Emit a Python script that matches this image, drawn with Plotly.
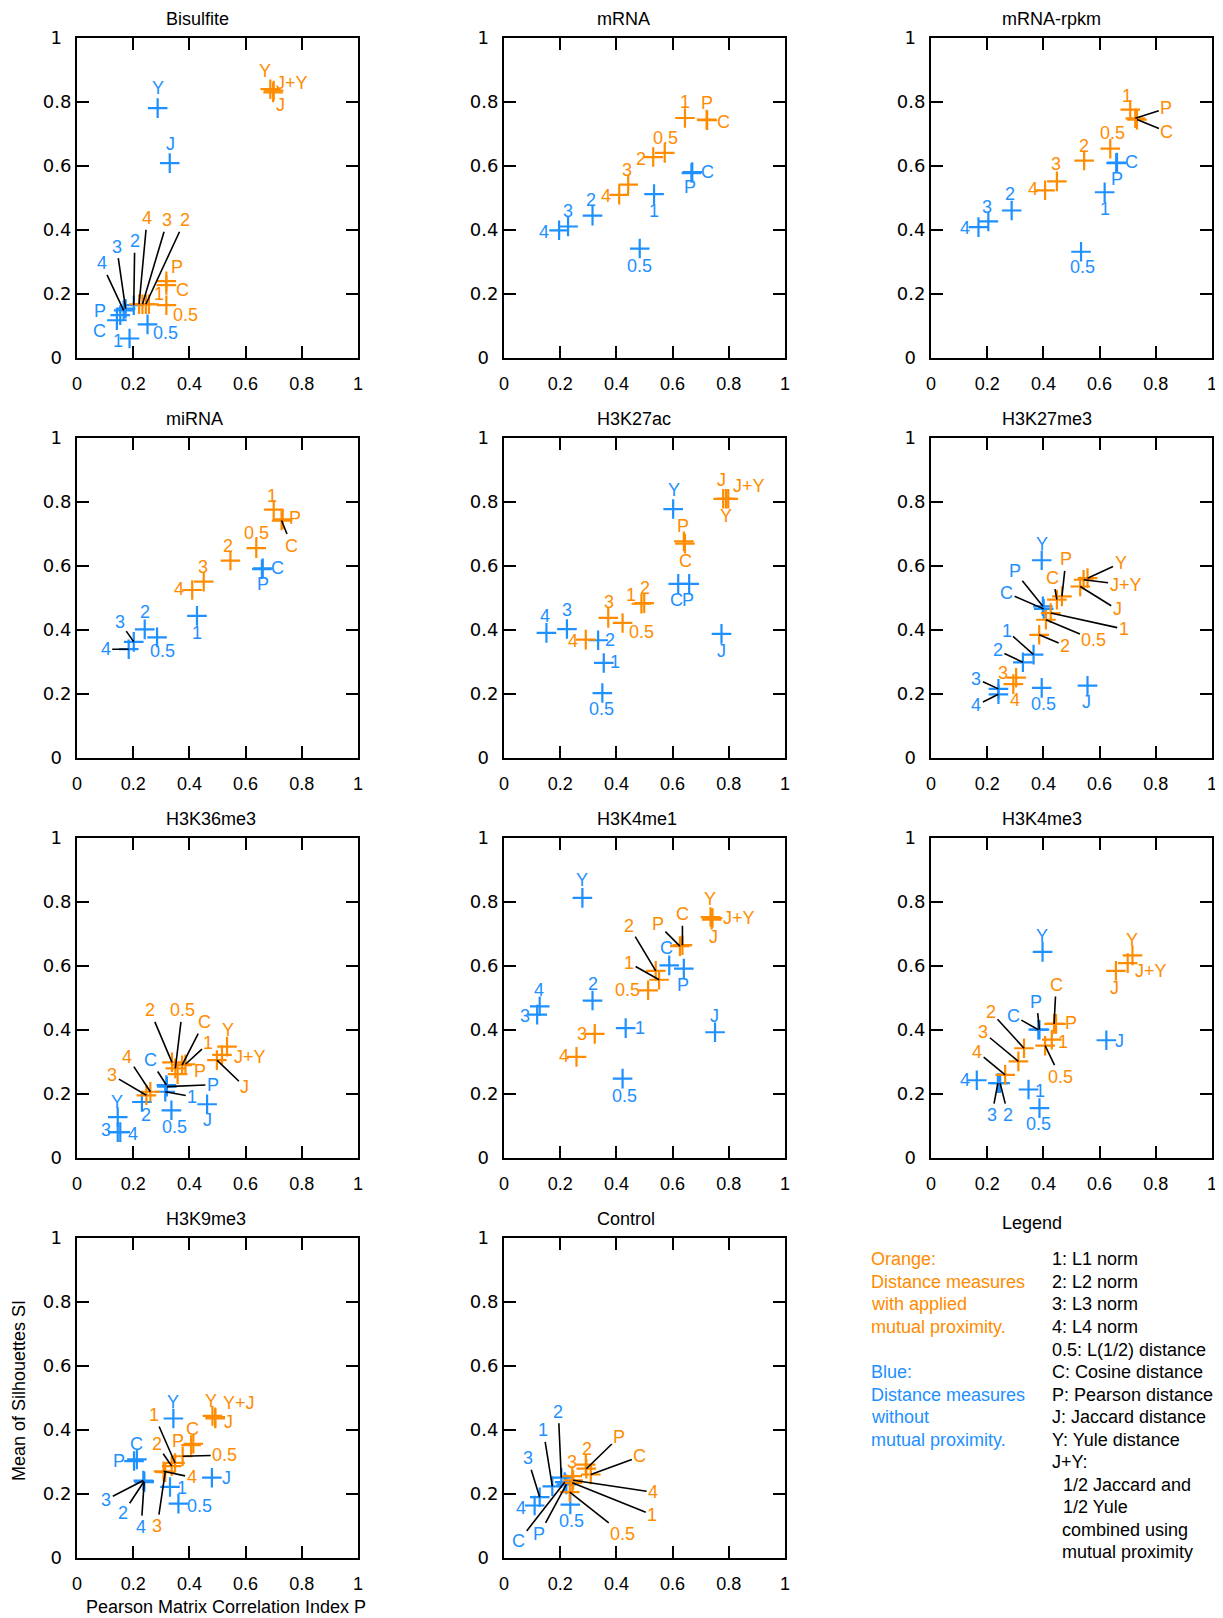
import plotly.graph_objects as go

W, H = 1223, 1618
PAGE_OFF = 8  # browser body margin around the figure
ORANGE = "#FF8C00"
BLUE = "#1E90FF"
FONT = "Liberation Sans, Arial, sans-serif"
YTICK_FONT = "DejaVu Sans, Liberation Sans, sans-serif"

PANEL_TITLES = ["Bisulfite", "mRNA", "mRNA-rpkm", "miRNA", "H3K27ac", "H3K27me3",
                "H3K36me3", "H3K4me1", "H3K4me3", "H3K9me3", "Control"]
TICK_VALS = [0, 0.2, 0.4, 0.6, 0.8, 1]
TICK_TEXT = ["0", "0.2", "0.4", "0.6", "0.8", "1"]
X_TITLE = "Pearson Matrix Correlation Index P"
Y_TITLE = "Mean of Silhouettes SI"

# ---- Bisulfite ----
BIS_O_LBL = ["4", "3", "2", "1", "P", "C", "0.5", "Y", "J+Y", "J"]
BIS_O_X = [0.221, 0.233, 0.245, 0.256, 0.318, 0.318, 0.318, 0.688, 0.700, 0.698]
BIS_O_Y = [0.168, 0.168, 0.168, 0.168, 0.240, 0.228, 0.165, 0.840, 0.836, 0.830]
BIS_B_LBL = ["Y", "J", "P", "C", "4", "3", "2", "1", "0.5"]
BIS_B_X = [0.287, 0.330, 0.154, 0.142, 0.166, 0.173, 0.202, 0.187, 0.251]
BIS_B_Y = [0.781, 0.609, 0.134, 0.118, 0.149, 0.154, 0.165, 0.061, 0.105]
# ---- mRNA ----
MRNA_O_LBL = ["1", "P", "C", "0.5", "2", "3", "4"]
MRNA_O_X = [0.644, 0.721, 0.723, 0.572, 0.531, 0.442, 0.410]
MRNA_O_Y = [0.750, 0.745, 0.743, 0.641, 0.628, 0.542, 0.510]
MRNA_B_LBL = ["C", "P", "1", "0.5", "2", "3", "4"]
MRNA_B_X = [0.670, 0.667, 0.534, 0.483, 0.315, 0.228, 0.196]
MRNA_B_Y = [0.581, 0.578, 0.512, 0.342, 0.445, 0.411, 0.399]
# ---- mRNA-rpkm ----
RPKM_O_LBL = ["1", "P", "C", "0.5", "2", "3", "4"]
RPKM_O_X = [0.709, 0.727, 0.733, 0.638, 0.545, 0.448, 0.406]
RPKM_O_Y = [0.776, 0.749, 0.745, 0.654, 0.617, 0.552, 0.524]
RPKM_B_LBL = ["C", "P", "1", "0.5", "2", "3", "4"]
RPKM_B_X = [0.662, 0.659, 0.618, 0.534, 0.287, 0.204, 0.169]
RPKM_B_Y = [0.611, 0.609, 0.518, 0.332, 0.461, 0.427, 0.409]
# ---- miRNA ----
MIR_O_LBL = ["1", "P", "C", "0.5", "2", "3", "4"]
MIR_O_X = [0.700, 0.732, 0.728, 0.638, 0.546, 0.451, 0.410]
MIR_O_Y = [0.776, 0.746, 0.742, 0.656, 0.617, 0.551, 0.525]
MIR_B_LBL = ["C", "P", "1", "2", "0.5", "3", "4"]
MIR_B_X = [0.661, 0.658, 0.427, 0.241, 0.285, 0.202, 0.184]
MIR_B_Y = [0.593, 0.590, 0.444, 0.402, 0.377, 0.363, 0.340]
# ---- H3K27ac ----
K27AC_O_LBL = ["J", "J+Y", "Y", "P", "C", "1", "2", "3", "0.5", "4"]
K27AC_O_X = [0.780, 0.790, 0.798, 0.640, 0.644, 0.489, 0.499, 0.371, 0.422, 0.291]
K27AC_O_Y = [0.810, 0.810, 0.810, 0.677, 0.670, 0.482, 0.484, 0.438, 0.422, 0.370]
K27AC_B_LBL = ["Y", "C", "P", "4", "3", "2", "1", "0.5", "J"]
K27AC_B_X = [0.602, 0.620, 0.659, 0.151, 0.224, 0.335, 0.355, 0.350, 0.774]
K27AC_B_Y = [0.778, 0.544, 0.544, 0.391, 0.403, 0.368, 0.297, 0.203, 0.388]
# ---- H3K27me3 ----
K27ME3_O_LBL = ["P", "C", "Y", "J+Y", "J", "1", "0.5", "2", "3", "4"]
K27ME3_O_X = [0.466, 0.448, 0.557, 0.543, 0.531, 0.426, 0.409, 0.385, 0.303, 0.293]
K27ME3_O_Y = [0.505, 0.495, 0.562, 0.557, 0.536, 0.453, 0.432, 0.385, 0.251, 0.231]
K27ME3_B_LBL = ["Y", "P", "C", "1", "2", "3", "4", "0.5", "J"]
K27ME3_B_X = [0.394, 0.398, 0.401, 0.365, 0.327, 0.240, 0.240, 0.394, 0.557]
K27ME3_B_Y = [0.618, 0.474, 0.466, 0.323, 0.299, 0.216, 0.199, 0.219, 0.226]
# ---- H3K36me3 ----
K36_O_LBL = ["2", "0.5", "C", "1", "P", "Y", "J+Y", "J", "4", "3"]
K36_O_X = [0.338, 0.350, 0.374, 0.386, 0.358, 0.534, 0.516, 0.498, 0.261, 0.247]
K36_O_Y = [0.299, 0.280, 0.290, 0.293, 0.262, 0.348, 0.322, 0.306, 0.207, 0.196]
K36_B_LBL = ["C", "P", "1", "2", "0.5", "J", "Y", "3", "4"]
K36_B_X = [0.318, 0.320, 0.314, 0.231, 0.336, 0.463, 0.145, 0.145, 0.154]
K36_B_Y = [0.228, 0.223, 0.207, 0.175, 0.149, 0.168, 0.128, 0.081, 0.081]
# ---- H3K4me1 ----
K4ME1_O_LBL = ["Y", "J+Y", "J", "C", "P", "2", "1", "0.5", "3", "4"]
K4ME1_O_X = [0.735, 0.742, 0.739, 0.635, 0.626, 0.540, 0.552, 0.513, 0.323, 0.258]
K4ME1_O_Y = [0.753, 0.750, 0.745, 0.665, 0.662, 0.585, 0.557, 0.524, 0.388, 0.316]
K4ME1_B_LBL = ["Y", "4", "3", "2", "1", "0.5", "C", "P", "J"]
K4ME1_B_X = [0.279, 0.127, 0.118, 0.315, 0.433, 0.422, 0.588, 0.640, 0.751]
K4ME1_B_Y = [0.813, 0.474, 0.448, 0.492, 0.406, 0.248, 0.602, 0.592, 0.393]
# ---- H3K4me3 ----
K4ME3_O_LBL = ["Y", "J+Y", "J", "C", "P", "1", "0.5", "2", "3", "4"]
K4ME3_O_X = [0.717, 0.700, 0.658, 0.438, 0.445, 0.430, 0.406, 0.331, 0.311, 0.264]
K4ME3_O_Y = [0.633, 0.609, 0.585, 0.419, 0.419, 0.370, 0.351, 0.343, 0.302, 0.260]
K4ME3_B_LBL = ["Y", "P", "C", "4", "3", "2", "1", "0.5", "J"]
K4ME3_B_X = [0.397, 0.386, 0.382, 0.163, 0.238, 0.246, 0.347, 0.386, 0.624]
K4ME3_B_Y = [0.644, 0.401, 0.401, 0.243, 0.234, 0.234, 0.214, 0.156, 0.368]
# ---- H3K9me3 ----
K9_O_LBL = ["Y", "Y+J", "J", "C", "P", "0.5", "1", "2", "4", "3"]
K9_O_X = [0.482, 0.492, 0.492, 0.414, 0.406, 0.376, 0.349, 0.337, 0.308, 0.314]
K9_O_Y = [0.444, 0.440, 0.436, 0.357, 0.353, 0.318, 0.297, 0.287, 0.271, 0.268]
K9_B_LBL = ["Y", "C", "P", "3", "2", "4", "1", "0.5", "J"]
K9_B_X = [0.343, 0.213, 0.203, 0.236, 0.239, 0.239, 0.331, 0.361, 0.480]
K9_B_Y = [0.436, 0.308, 0.303, 0.242, 0.240, 0.237, 0.222, 0.170, 0.251]
# ---- Control ----
CTRL_O_LBL = ["2", "P", "3", "C", "4", "1", "0.5"]
CTRL_O_X = [0.291, 0.293, 0.243, 0.309, 0.246, 0.243, 0.234]
CTRL_O_Y = [0.292, 0.279, 0.256, 0.261, 0.243, 0.235, 0.206]
CTRL_B_LBL = ["2", "1", "3", "4", "C", "P", "0.5"]
CTRL_B_X = [0.204, 0.172, 0.127, 0.109, 0.216, 0.222, 0.236]
CTRL_B_Y = [0.251, 0.224, 0.190, 0.164, 0.237, 0.230, 0.167]

LEGEND_TITLE = "Legend"
LEGEND_ORANGE = ["Orange:", "Distance measures", "with applied", "mutual proximity."]
LEGEND_BLUE = ["Blue:", "Distance measures", "without", "mutual proximity."]
LEGEND_KEYS = ["1: L1 norm", "2: L2 norm", "3: L3 norm", "4: L4 norm", "0.5: L(1/2) distance",
               "C: Cosine distance", "P: Pearson distance", "J: Jaccard distance",
               "Y: Yule distance", "J+Y:", "1/2 Jaccard and", "1/2 Yule",
               "combined using", "mutual proximity"]

PANELS = [
    (BIS_O_LBL, BIS_O_X, BIS_O_Y, BIS_B_LBL, BIS_B_X, BIS_B_Y),
    (MRNA_O_LBL, MRNA_O_X, MRNA_O_Y, MRNA_B_LBL, MRNA_B_X, MRNA_B_Y),
    (RPKM_O_LBL, RPKM_O_X, RPKM_O_Y, RPKM_B_LBL, RPKM_B_X, RPKM_B_Y),
    (MIR_O_LBL, MIR_O_X, MIR_O_Y, MIR_B_LBL, MIR_B_X, MIR_B_Y),
    (K27AC_O_LBL, K27AC_O_X, K27AC_O_Y, K27AC_B_LBL, K27AC_B_X, K27AC_B_Y),
    (K27ME3_O_LBL, K27ME3_O_X, K27ME3_O_Y, K27ME3_B_LBL, K27ME3_B_X, K27ME3_B_Y),
    (K36_O_LBL, K36_O_X, K36_O_Y, K36_B_LBL, K36_B_X, K36_B_Y),
    (K4ME1_O_LBL, K4ME1_O_X, K4ME1_O_Y, K4ME1_B_LBL, K4ME1_B_X, K4ME1_B_Y),
    (K4ME3_O_LBL, K4ME3_O_X, K4ME3_O_Y, K4ME3_B_LBL, K4ME3_B_X, K4ME3_B_Y),
    (K9_O_LBL, K9_O_X, K9_O_Y, K9_B_LBL, K9_B_X, K9_B_Y),
    (CTRL_O_LBL, CTRL_O_X, CTRL_O_Y, CTRL_B_LBL, CTRL_B_X, CTRL_B_Y),
]

# ---- label placement (pixel offsets: dx right, dy up, leader line flag) ----
L = 1
LABEL_POS = [
    {"o4": (8, 86, L), "o3": (25, 84, L), "o2": (39, 84, L), "o1": (10, 10, 0), "oP": (11, 14, 0),
     "oC": (16, -5, 0), "o0.5": (19, -10, 0), "oY": (-5, 18, 0), "oJ+Y": (18, 7, 0), "oJ": (7, -13, 0),
     "bY": (0, 20, 0), "bJ": (1, 19, 0), "bP": (-20, 4, 0), "bC": (-17, -11, 0), "b4": (-22, 47, L),
     "b3": (-9, 62, L), "b2": (1, 64, L), "b1": (-12, -3, 0), "b0.5": (18, -9, 0)},
    {"o1": (0, 16, 0), "oP": (0, 17, 0), "oC": (16, -2, 0), "o0.5": (1, 15, 0), "o2": (-12, -2, 0),
     "o3": (-1, 15, 0), "o4": (-13, -1, 0),
     "bC": (15, 0, 0), "bP": (-1, -14, 0), "b1": (0, -17, 0), "b0.5": (0, -17, 0), "b2": (-2, 16, 0),
     "b3": (0, 15, 0), "b4": (-15, -2, 0)},
    {"o1": (-3, 14, 0), "oP": (31, 10, L), "oC": (30, -12, L), "o0.5": (2, 16, 0), "o2": (0, 15, 0),
     "o3": (-1, 17, 0), "o4": (-12, 1, 0),
     "bC": (14, 0, 0), "bP": (1, -16, 0), "b1": (0, -17, 0), "b0.5": (1, -15, 0), "b2": (-2, 16, 0),
     "b3": (-1, 14, 0), "b4": (-13, -1, 0)},
    {"o1": (-2, 14, 0), "oP": (12, 1, 0), "oC": (10, -25, L), "o0.5": (0, 15, 0), "o2": (-2, 15, 0),
     "o3": (-1, 15, 0), "o4": (-13, 1, 0),
     "bC": (15, 0, 0), "bP": (1, -15, 0), "b1": (0, -17, 0), "b2": (0, 17, 0), "b0.5": (5, -14, 0),
     "b3": (-14, 20, L), "b4": (-23, 0, L)},
    {"oJ": (-2, 19, 0), "oJ+Y": (23, 13, 0), "oY": (-2, -17, 0), "oP": (-1, 15, 0), "oC": (1, -17, 0),
     "o1": (-10, 9, 0), "o2": (1, 15, 0), "o3": (1, 16, 0), "o0.5": (19, -9, 0), "o4": (-13, -1, 0),
     "bY": (1, 19, 0), "bC": (-2, -16, 0), "bP": (-1, -16, 0), "b4": (-1, 17, 0), "b3": (0, 19, 0),
     "b2": (12, 0, 0), "b1": (11, 1, 0), "b0.5": (-1, -16, 0), "bJ": (0, -17, 0)},
    {"oP": (4, 37, L), "oC": (-4, 22, L), "oY": (33, 15, L), "oJ+Y": (42, -5, L), "oJ": (37, -23, L),
     "o1": (73, -16, L), "o0.5": (48, -20, L), "o2": (26, -11, L), "o3": (-13, 5, 0), "o4": (2, -16, 0),
     "bY": (0, 16, 0), "bP": (-28, 35, L), "bC": (-37, 16, L), "b1": (-27, 24, L), "b2": (-25, 12, L),
     "b3": (-22, 10, L), "b4": (-22, -11, L), "b0.5": (2, -16, 0), "bJ": (-1, -16, 0)},
    {"o2": (-22, 52, L), "o0.5": (7, 58, L), "oC": (22, 43, L), "o1": (23, 21, L), "oP": (22, 3, 0),
     "oY": (1, 17, 0), "oJ+Y": (28, -2, 0), "oJ": (28, -27, L), "o4": (-23, 35, L), "o3": (-34, 20, L),
     "bC": (-16, 25, L), "bP": (46, 2, L), "b1": (27, -5, L), "b2": (4, -13, 0), "b0.5": (3, -17, 0),
     "bJ": (0, -16, 0), "bY": (-1, 15, 0), "b3": (-12, 2, 0), "b4": (13, -2, 0)},
    {"oY": (-1, 18, 0), "oJ+Y": (26, 0, 0), "oJ": (2, -17, 0), "oC": (0, 31, L), "oP": (-22, 22, L),
     "o2": (-27, 45, L), "o1": (-30, 17, L), "o0.5": (-21, 0, 0), "o3": (-13, 0, 0), "o4": (-13, 1, 0),
     "bY": (0, 18, 0), "b4": (-1, 16, 0), "b3": (-12, -1, 0), "b2": (0, 17, 0), "b1": (14, 0, 0),
     "b0.5": (2, -17, 0), "bC": (-3, 17, 0), "bP": (-1, -16, 0), "bJ": (-1, 16, 0)},
    {"oY": (0, 15, 0), "oJ+Y": (23, -8, 0), "oJ": (-1, -17, 0), "oC": (2, 39, L), "oP": (15, 1, 0),
     "o1": (11, -2, 0), "o0.5": (15, -31, L), "o2": (-33, 36, L), "o3": (-35, 29, L), "o4": (-28, 23, L),
     "bY": (-1, 16, 0), "bP": (-3, 28, L), "bC": (-25, 14, L), "b4": (-12, 0, 0), "b3": (-6, -32, L),
     "b2": (8, -32, L), "b1": (11, -1, 0), "b0.5": (-1, -16, 0), "bJ": (13, -1, 0)},
    {"oY": (-1, 15, 0), "oY+J": (24, 14, 0), "oJ": (13, -4, 0), "oC": (-1, 15, 0), "oP": (-13, 4, 0),
     "o0.5": (42, 1, L), "o1": (-21, 48, L), "o2": (-15, 22, L), "o4": (28, -6, L), "o3": (-8, -54, L),
     "bY": (0, 16, 0), "bC": (0, 15, 0), "bP": (-15, 0, 0), "b3": (-37, -19, L), "b2": (-21, -32, L),
     "b4": (-3, -45, L), "b1": (12, -1, 0), "b0.5": (21, -2, 0), "bJ": (15, 0, 0)},
    {"o2": (1, 16, 0), "oP": (33, 32, L), "o3": (0, 14, 0), "oC": (49, 18, L), "o4": (80, -12, L),
     "o1": (80, -32, L), "o0.5": (53, -42, L),
     "b2": (-3, 66, L), "b1": (-9, 56, L), "b3": (-12, 39, L), "b4": (-14, -2, 0), "bC": (-46, -59, L),
     "bP": (-27, -50, L), "b0.5": (1, -16, 0)},
]

COL_LEFT = [77, 504, 931]
ROW_TOP = [38, 438, 838, 1238]
PW, PH = 281, 320
TITLE_LEFT = [164, 595, 1000]


def px_x(x):
    return (x - PAGE_OFF) / W


def px_y(y):
    return 1 - (y - PAGE_OFF) / H


# y tick labels are centred on a common column in the original: pad short ones
YTICK_TEXT = [t + "\u2009\u00a0" if len(t) == 1 else t for t in TICK_TEXT]

fig = go.Figure()
annotations = []
axis_common = dict(range=[0, 1], showline=True, linecolor="black", linewidth=2, mirror="ticks",
                   ticks="inside", ticklen=12, tickwidth=2, tickcolor="black", automargin=False,
                   tickvals=TICK_VALS, showgrid=False, zeroline=False, fixedrange=True)

for i, title in enumerate(PANEL_TITLES):
    r, c = divmod(i, 3)
    x0, y0 = COL_LEFT[c], ROW_TOP[r]
    sid = "" if i == 0 else str(i + 1)
    fig.update_layout({
        f"xaxis{sid}": dict(domain=[px_x(x0), px_x(x0 + PW)], anchor=f"y{sid}",
                            ticklabelstandoff=8, ticktext=TICK_TEXT,
                            tickfont=dict(family=FONT, size=18, color="black"), **axis_common),
        f"yaxis{sid}": dict(domain=[px_y(y0 + PH), px_y(y0)], anchor=f"x{sid}",
                            ticklabelstandoff=0, ticktext=YTICK_TEXT,
                            tickfont=dict(family=YTICK_FONT, size=18, color="black"), **axis_common),
    })
    o_lbl, o_x, o_y, b_lbl, b_x, b_y = PANELS[i]
    for key, color, lbls, xs, ys in (("b", BLUE, b_lbl, b_x, b_y), ("o", ORANGE, o_lbl, o_x, o_y)):
        fig.add_trace(go.Scatter(
            x=xs, y=ys, mode="markers", xaxis=f"x{sid}", yaxis=f"y{sid}",
            marker=dict(symbol="cross-thin", size=14, color=color, line=dict(color=color, width=2.2)),
            showlegend=False, hoverinfo="skip", cliponaxis=False))
        for lb, xv, yv in zip(lbls, xs, ys):
            dx, dy, lead = LABEL_POS[i][key + lb]
            base = dict(x=xv, y=yv, xref=f"x{sid}", yref=f"y{sid}", text=lb,
                        font=dict(family=FONT, size=18, color=color))
            if lead:
                base.update(showarrow=True, arrowhead=0, arrowwidth=1.6, arrowcolor="black",
                            ax=dx, ay=-dy, standoff=0)
            else:
                base.update(showarrow=False, xshift=dx, yshift=dy, xanchor="center", yanchor="middle")
            annotations.append(base)
    annotations.append(dict(x=px_x(TITLE_LEFT[c]), y=px_y(y0 - 19), xref="paper", yref="paper",
                            text=title, showarrow=False, xanchor="left", yanchor="middle",
                            font=dict(family=FONT, size=18, color="black")))

# axis titles (only on lower-left panel)
annotations.append(dict(x=px_x(19), y=px_y(1391), xref="paper", yref="paper", text=Y_TITLE,
                        textangle=-90, showarrow=False, xanchor="center", yanchor="middle",
                        font=dict(family=FONT, size=18, color="black")))
annotations.append(dict(x=px_x(226), y=px_y(1607), xref="paper", yref="paper", text=X_TITLE,
                        showarrow=False, xanchor="center", yanchor="middle",
                        font=dict(family=FONT, size=18, color="black")))

# legend panel text
annotations.append(dict(x=px_x(1000), y=px_y(1223), xref="paper", yref="paper", text=LEGEND_TITLE,
                        showarrow=False, xanchor="left", yanchor="middle",
                        font=dict(family=FONT, size=18, color="black")))
LINE = 22.55
for k, t in enumerate(LEGEND_ORANGE):
    annotations.append(dict(x=px_x(869), y=px_y(1259.3 + k * LINE), xref="paper", yref="paper",
                            text=t, showarrow=False, xanchor="left", yanchor="middle",
                            font=dict(family=FONT, size=18, color=ORANGE)))
for k, t in enumerate(LEGEND_BLUE):
    annotations.append(dict(x=px_x(869), y=px_y(1259.3 + (k + 5) * LINE), xref="paper", yref="paper",
                            text=t, showarrow=False, xanchor="left", yanchor="middle",
                            font=dict(family=FONT, size=18, color=BLUE)))
for k, t in enumerate(LEGEND_KEYS):
    xk = 1050 if k < 10 else (1061 if k < 12 else 1060)
    annotations.append(dict(x=px_x(xk), y=px_y(1259.3 + k * LINE), xref="paper", yref="paper",
                            text=t, showarrow=False, xanchor="left", yanchor="middle",
                            font=dict(family=FONT, size=18, color="black")))

fig.update_layout(width=W, height=H, margin=dict(l=0, r=0, t=0, b=0, autoexpand=False),
                  paper_bgcolor="white", plot_bgcolor="white", annotations=annotations,
                  showlegend=False, font=dict(family=FONT, size=18, color="black"))
fig.write_html("out.html")
